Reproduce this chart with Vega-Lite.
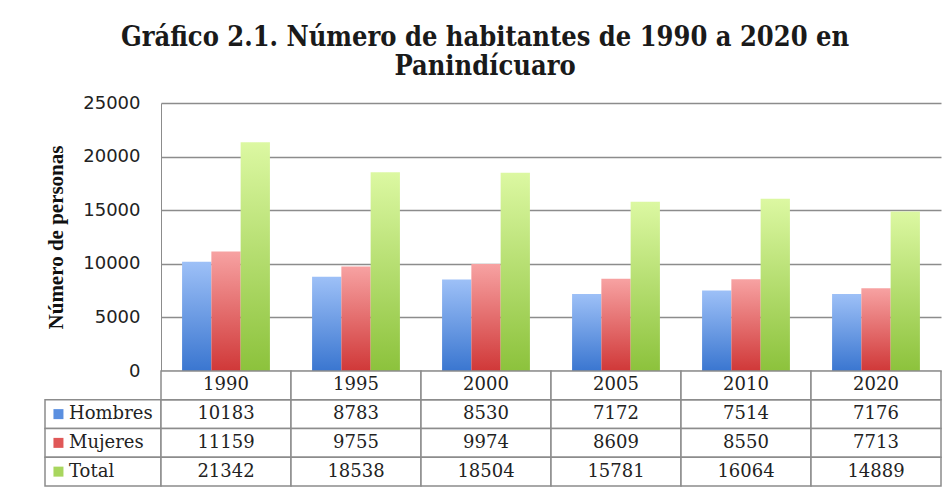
{
  "$schema": "https://vega.github.io/schema/vega-lite/v6.json",
  "padding": {"left": 44, "top": 24, "right": 12, "bottom": 4},
  "background": "white",
  "config": {
    "view": {"stroke": null},
    "concat": {"spacing": 0},
    "font": "DejaVu Serif"
  },
  "title": {
    "text": ["Gráfico 2.1. Número de habitantes de 1990 a 2020 en", "Panindícuaro"],
    "font": "DejaVu Serif Condensed, DejaVu Serif",
    "fontSize": 27,
    "fontWeight": "bold",
    "color": "#1a1a1a",
    "lineHeight": 29,
    "anchor": "middle",
    "dx": -8,
    "offset": 13
  },
  "datasets": {
    "pop": [
      {"year": "1990", "serie": "Hombres", "value": 10183},
      {"year": "1990", "serie": "Mujeres", "value": 11159},
      {"year": "1990", "serie": "Total", "value": 21342},
      {"year": "1995", "serie": "Hombres", "value": 8783},
      {"year": "1995", "serie": "Mujeres", "value": 9755},
      {"year": "1995", "serie": "Total", "value": 18538},
      {"year": "2000", "serie": "Hombres", "value": 8530},
      {"year": "2000", "serie": "Mujeres", "value": 9974},
      {"year": "2000", "serie": "Total", "value": 18504},
      {"year": "2005", "serie": "Hombres", "value": 7172},
      {"year": "2005", "serie": "Mujeres", "value": 8609},
      {"year": "2005", "serie": "Total", "value": 15781},
      {"year": "2010", "serie": "Hombres", "value": 7514},
      {"year": "2010", "serie": "Mujeres", "value": 8550},
      {"year": "2010", "serie": "Total", "value": 16064},
      {"year": "2020", "serie": "Hombres", "value": 7176},
      {"year": "2020", "serie": "Mujeres", "value": 7713},
      {"year": "2020", "serie": "Total", "value": 14889}
    ],
    "series": [
      {"serie": "Hombres"},
      {"serie": "Mujeres"},
      {"serie": "Total"}
    ]
  },
  "columns": 2,
  "bounds": "flush",
  "concat": [
    {
      "width": 116,
      "height": 268,
      "data": {"name": "series"},
      "mark": {"type": "point", "opacity": 0}
    },
    {
      "width": 780,
      "height": 268,
      "data": {"name": "pop"},
      "encoding": {
        "x": {"field": "year", "type": "nominal", "scale": {"paddingInner": 0, "paddingOuter": 0}, "axis": null},
        "xOffset": {"field": "serie", "type": "nominal", "scale": {"domain": ["Hombres", "Mujeres", "Total"], "paddingInner": 0, "paddingOuter": 0.72}},
        "y": {
          "field": "value",
          "type": "quantitative",
          "scale": {"domain": [0, 25000]},
          "axis": {
            "values": [0, 5000, 10000, 15000, 20000, 25000],
            "format": "d",
            "title": "Número de personas",
            "titleFont": "Liberation Serif",
            "titleFontSize": 21,
            "titleFontWeight": "bold",
            "titleColor": "#111",
            "titlePadding": 16,
            "labelFont": "DejaVu Sans",
            "labelFontSize": 18,
            "labelColor": "#222",
            "labelPadding": 21,
            "ticks": false,
            "domainColor": "#8c8c8c",
            "gridColor": "#8c8c8c",
            "gridWidth": 1.5
          }
        }
      },
      "layer": [
        {
          "transform": [{"filter": "datum.serie === 'Hombres'"}],
          "mark": {"type": "bar", "color": {"gradient": "linear", "x1": 0, "y1": 0, "x2": 0, "y2": 1, "stops": [{"offset": 0, "color": "#9dc0f7"}, {"offset": 1, "color": "#3a76d0"}]}}
        },
        {
          "transform": [{"filter": "datum.serie === 'Mujeres'"}],
          "mark": {"type": "bar", "color": {"gradient": "linear", "x1": 0, "y1": 0, "x2": 0, "y2": 1, "stops": [{"offset": 0, "color": "#f7a2a2"}, {"offset": 1, "color": "#d03838"}]}}
        },
        {
          "transform": [{"filter": "datum.serie === 'Total'"}],
          "mark": {"type": "bar", "color": {"gradient": "linear", "x1": 0, "y1": 0, "x2": 0, "y2": 1, "stops": [{"offset": 0, "color": "#dcf8a2"}, {"offset": 1, "color": "#8cc23c"}]}}
        }
      ]
    },
    {
      "width": 116,
      "height": 115,
      "data": {"name": "series"},
      "encoding": {
        "y": {"field": "serie", "type": "nominal", "scale": {"domain": ["Año", "Hombres", "Mujeres", "Total"], "paddingInner": 0, "paddingOuter": 0}, "axis": null}
      },
      "layer": [
        {"mark": {"type": "rect", "fill": "white", "stroke": "#8c8c8c", "strokeWidth": 1.5}},
        {
          "mark": {"type": "square", "size": 100, "filled": true, "opacity": 1},
          "encoding": {
            "x": {"datum": 0.116, "type": "quantitative", "scale": {"domain": [0, 1]}, "axis": null},
            "color": {"field": "serie", "type": "nominal", "scale": {"domain": ["Hombres", "Mujeres", "Total"], "range": ["#5a8fe0", "#e05858", "#a8d65e"]}, "legend": null}
          }
        },
        {
          "mark": {"type": "text", "align": "left", "fontSize": 18, "color": "#222"},
          "encoding": {
            "x": {"datum": 0.207, "type": "quantitative", "scale": {"domain": [0, 1]}, "axis": null},
            "text": {"field": "serie", "type": "nominal"}
          }
        }
      ]
    },
    {
      "width": 780,
      "height": 115,
      "data": {"name": "pop"},
      "encoding": {
        "x": {"field": "year", "type": "nominal", "scale": {"paddingInner": 0, "paddingOuter": 0}, "axis": null}
      },
      "layer": [
        {
          "mark": {"type": "rect", "fill": "white", "stroke": "#8c8c8c", "strokeWidth": 1.5},
          "encoding": {"y": {"field": "serie", "type": "nominal", "scale": {"domain": ["Año", "Hombres", "Mujeres", "Total"], "paddingInner": 0, "paddingOuter": 0}, "axis": null}}
        },
        {
          "transform": [{"aggregate": [{"op": "count", "as": "n"}], "groupby": ["year"]}],
          "mark": {"type": "rect", "fill": "white", "stroke": "#8c8c8c", "strokeWidth": 1.5},
          "encoding": {"y": {"datum": "Año", "type": "nominal"}}
        },
        {
          "mark": {"type": "text", "fontSize": 18, "color": "#222"},
          "encoding": {
            "y": {"field": "serie", "type": "nominal"},
            "text": {"field": "value", "type": "nominal"}
          }
        },
        {
          "transform": [{"aggregate": [{"op": "count", "as": "n"}], "groupby": ["year"]}],
          "mark": {"type": "text", "fontSize": 18, "color": "#222"},
          "encoding": {
            "y": {"datum": "Año", "type": "nominal"},
            "text": {"field": "year", "type": "nominal"}
          }
        }
      ]
    }
  ]
}
